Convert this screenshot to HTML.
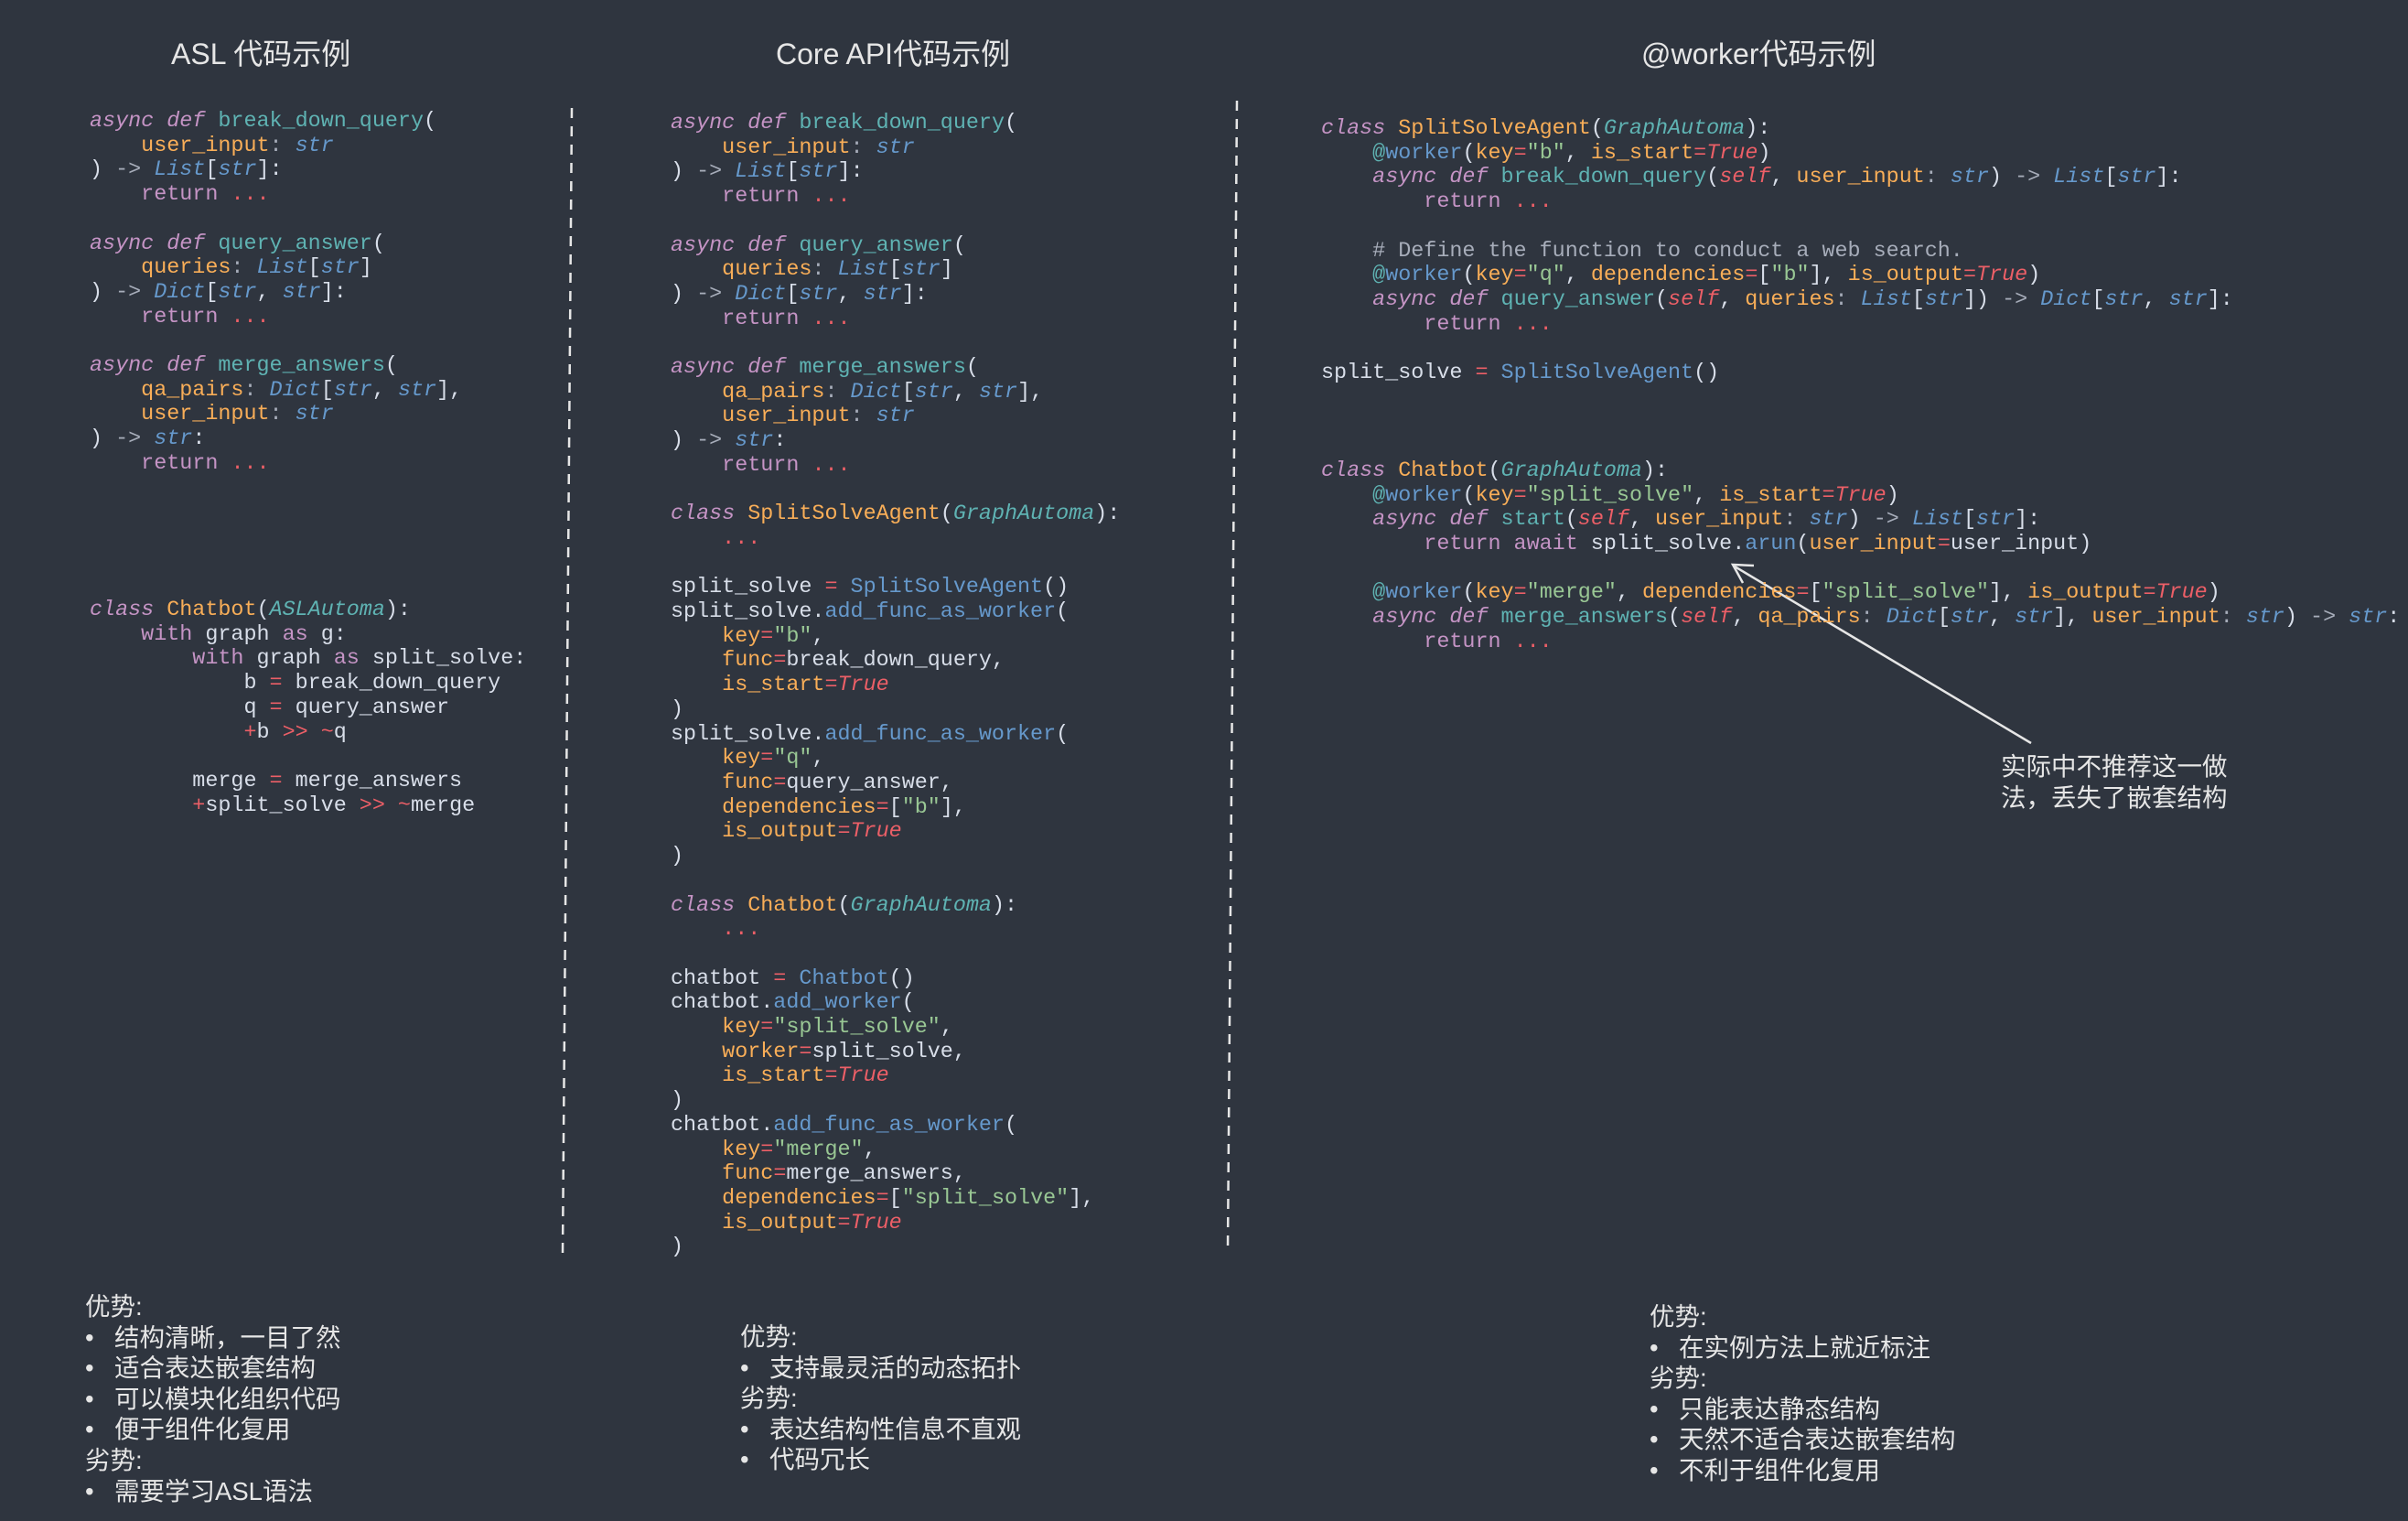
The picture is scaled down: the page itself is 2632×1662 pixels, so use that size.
<!DOCTYPE html>
<html><head><meta charset="utf-8"><style>
body{margin:0;width:2632px;height:1662px;background:#2f353f;overflow:hidden;position:relative;font-family:"Liberation Sans","Noto Sans CJK SC",sans-serif;color:#e6e6e6}
.t{position:absolute;font-size:32px;top:34px;white-space:nowrap}
pre{position:absolute;margin:0;font-family:"Liberation Mono","DejaVu Sans Mono",monospace;font-size:23.4px;line-height:26.7px;color:#d8dee9}
.k{color:#c594c5;font-style:italic}.r{color:#c594c5}.f{color:#5fb3b3}.p{color:#f9ae58}.ty{color:#6699cc;font-style:italic}
.e{color:#ec5f67}.ei{color:#ec5f67;font-style:italic}.s{color:#99c794}.c{color:#a7adba}.y{color:#f9ae58}.g{color:#5fb3b3;font-style:italic}.b{color:#6699cc}.o{color:#a7adba}
.txt{position:absolute;font-size:27.5px;line-height:33.6px;white-space:nowrap}
.txt div{position:relative}
.bl{padding-left:32px}.bl:before{content:"•";position:absolute;left:0}
</style></head><body>
<div class="t" style="left:187px">ASL 代码示例</div>
<div class="t" style="left:848px">Core API代码示例</div>
<div class="t" style="left:1794px">@worker代码示例</div>

<svg width="2632" height="1662" style="position:absolute;left:0;top:0">
<line x1="625" y1="118" x2="615" y2="1370" stroke="#e6e6e6" stroke-width="2.5" stroke-dasharray="11,9"/>
<line x1="1352" y1="110" x2="1342" y2="1364" stroke="#e6e6e6" stroke-width="2.5" stroke-dasharray="11,9"/>
<line x1="2220" y1="812" x2="1896" y2="619" stroke="#e6e6e6" stroke-width="2.5"/>
<polyline points="1917,618 1894,617 1905,637" fill="none" stroke="#e6e6e6" stroke-width="2.5"/>
</svg>

<pre style="left:98px;top:120px"><span class="k">async def</span> <span class="f">break_down_query</span>(
    <span class="p">user_input</span><span class="o">:</span> <span class="ty">str</span>
) <span class="o">-&gt;</span> <span class="ty">List</span>[<span class="ty">str</span>]:
    <span class="r">return</span> <span class="e">...</span>

<span class="k">async def</span> <span class="f">query_answer</span>(
    <span class="p">queries</span><span class="o">:</span> <span class="ty">List</span>[<span class="ty">str</span>]
) <span class="o">-&gt;</span> <span class="ty">Dict</span>[<span class="ty">str</span>, <span class="ty">str</span>]:
    <span class="r">return</span> <span class="e">...</span>

<span class="k">async def</span> <span class="f">merge_answers</span>(
    <span class="p">qa_pairs</span><span class="o">:</span> <span class="ty">Dict</span>[<span class="ty">str</span>, <span class="ty">str</span>],
    <span class="p">user_input</span><span class="o">:</span> <span class="ty">str</span>
) <span class="o">-&gt;</span> <span class="ty">str</span>:
    <span class="r">return</span> <span class="e">...</span>





<span class="k">class</span> <span class="y">Chatbot</span>(<span class="g">ASLAutoma</span>):
    <span class="r">with</span> graph <span class="r">as</span> g:
        <span class="r">with</span> graph <span class="r">as</span> split_solve:
            b <span class="e">=</span> break_down_query
            q <span class="e">=</span> query_answer
            <span class="e">+</span>b <span class="e">&gt;&gt;</span> <span class="e">~</span>q

        merge <span class="e">=</span> merge_answers
        <span class="e">+</span>split_solve <span class="e">&gt;&gt;</span> <span class="e">~</span>merge</pre>

<pre style="left:733px;top:122px"><span class="k">async def</span> <span class="f">break_down_query</span>(
    <span class="p">user_input</span><span class="o">:</span> <span class="ty">str</span>
) <span class="o">-&gt;</span> <span class="ty">List</span>[<span class="ty">str</span>]:
    <span class="r">return</span> <span class="e">...</span>

<span class="k">async def</span> <span class="f">query_answer</span>(
    <span class="p">queries</span><span class="o">:</span> <span class="ty">List</span>[<span class="ty">str</span>]
) <span class="o">-&gt;</span> <span class="ty">Dict</span>[<span class="ty">str</span>, <span class="ty">str</span>]:
    <span class="r">return</span> <span class="e">...</span>

<span class="k">async def</span> <span class="f">merge_answers</span>(
    <span class="p">qa_pairs</span><span class="o">:</span> <span class="ty">Dict</span>[<span class="ty">str</span>, <span class="ty">str</span>],
    <span class="p">user_input</span><span class="o">:</span> <span class="ty">str</span>
) <span class="o">-&gt;</span> <span class="ty">str</span>:
    <span class="r">return</span> <span class="e">...</span>

<span class="k">class</span> <span class="y">SplitSolveAgent</span>(<span class="g">GraphAutoma</span>):
    <span class="e">...</span>

split_solve <span class="e">=</span> <span class="b">SplitSolveAgent</span>()
split_solve.<span class="b">add_func_as_worker</span>(
    <span class="p">key</span><span class="e">=</span><span class="s">"b"</span>,
    <span class="p">func</span><span class="e">=</span>break_down_query,
    <span class="p">is_start</span><span class="e">=</span><span class="ei">True</span>
)
split_solve.<span class="b">add_func_as_worker</span>(
    <span class="p">key</span><span class="e">=</span><span class="s">"q"</span>,
    <span class="p">func</span><span class="e">=</span>query_answer,
    <span class="p">dependencies</span><span class="e">=</span>[<span class="s">"b"</span>],
    <span class="p">is_output</span><span class="e">=</span><span class="ei">True</span>
)

<span class="k">class</span> <span class="y">Chatbot</span>(<span class="g">GraphAutoma</span>):
    <span class="e">...</span>

chatbot <span class="e">=</span> <span class="b">Chatbot</span>()
chatbot.<span class="b">add_worker</span>(
    <span class="p">key</span><span class="e">=</span><span class="s">"split_solve"</span>,
    <span class="p">worker</span><span class="e">=</span>split_solve,
    <span class="p">is_start</span><span class="e">=</span><span class="ei">True</span>
)
chatbot.<span class="b">add_func_as_worker</span>(
    <span class="p">key</span><span class="e">=</span><span class="s">"merge"</span>,
    <span class="p">func</span><span class="e">=</span>merge_answers,
    <span class="p">dependencies</span><span class="e">=</span>[<span class="s">"split_solve"</span>],
    <span class="p">is_output</span><span class="e">=</span><span class="ei">True</span>
)</pre>

<pre style="left:1444px;top:128px"><span class="k">class</span> <span class="y">SplitSolveAgent</span>(<span class="g">GraphAutoma</span>):
    <span class="f">@</span><span class="b">worker</span>(<span class="p">key</span><span class="e">=</span><span class="s">"b"</span>, <span class="p">is_start</span><span class="e">=</span><span class="ei">True</span>)
    <span class="k">async def</span> <span class="f">break_down_query</span>(<span class="ei">self</span>, <span class="p">user_input</span><span class="o">:</span> <span class="ty">str</span>) <span class="o">-&gt;</span> <span class="ty">List</span>[<span class="ty">str</span>]:
        <span class="r">return</span> <span class="e">...</span>

    <span class="c"># Define the function to conduct a web search.</span>
    <span class="f">@</span><span class="b">worker</span>(<span class="p">key</span><span class="e">=</span><span class="s">"q"</span>, <span class="p">dependencies</span><span class="e">=</span>[<span class="s">"b"</span>], <span class="p">is_output</span><span class="e">=</span><span class="ei">True</span>)
    <span class="k">async def</span> <span class="f">query_answer</span>(<span class="ei">self</span>, <span class="p">queries</span><span class="o">:</span> <span class="ty">List</span>[<span class="ty">str</span>]) <span class="o">-&gt;</span> <span class="ty">Dict</span>[<span class="ty">str</span>, <span class="ty">str</span>]:
        <span class="r">return</span> <span class="e">...</span>

split_solve <span class="e">=</span> <span class="b">SplitSolveAgent</span>()



<span class="k">class</span> <span class="y">Chatbot</span>(<span class="g">GraphAutoma</span>):
    <span class="f">@</span><span class="b">worker</span>(<span class="p">key</span><span class="e">=</span><span class="s">"split_solve"</span>, <span class="p">is_start</span><span class="e">=</span><span class="ei">True</span>)
    <span class="k">async def</span> <span class="f">start</span>(<span class="ei">self</span>, <span class="p">user_input</span><span class="o">:</span> <span class="ty">str</span>) <span class="o">-&gt;</span> <span class="ty">List</span>[<span class="ty">str</span>]:
        <span class="r">return await</span> split_solve.<span class="b">arun</span>(<span class="p">user_input</span><span class="e">=</span>user_input)

    <span class="f">@</span><span class="b">worker</span>(<span class="p">key</span><span class="e">=</span><span class="s">"merge"</span>, <span class="p">dependencies</span><span class="e">=</span>[<span class="s">"split_solve"</span>], <span class="p">is_output</span><span class="e">=</span><span class="ei">True</span>)
    <span class="k">async def</span> <span class="f">merge_answers</span>(<span class="ei">self</span>, <span class="p">qa_pairs</span><span class="o">:</span> <span class="ty">Dict</span>[<span class="ty">str</span>, <span class="ty">str</span>], <span class="p">user_input</span><span class="o">:</span> <span class="ty">str</span>) <span class="o">-&gt;</span> <span class="ty">str</span>:
        <span class="r">return</span> <span class="e">...</span></pre>

<div class="txt" style="left:2187px;top:821px">实际中不推荐这一做<br>法，丢失了嵌套结构</div>

<div class="txt" style="left:93px;top:1411px">
<div>优势:</div><div class="bl">结构清晰，一目了然</div><div class="bl">适合表达嵌套结构</div><div class="bl">可以模块化组织代码</div><div class="bl">便于组件化复用</div><div>劣势:</div><div class="bl">需要学习ASL语法</div>
</div>
<div class="txt" style="left:809px;top:1444px">
<div>优势:</div><div class="bl">支持最灵活的动态拓扑</div><div>劣势:</div><div class="bl">表达结构性信息不直观</div><div class="bl">代码冗长</div>
</div>
<div class="txt" style="left:1803px;top:1422px">
<div>优势:</div><div class="bl">在实例方法上就近标注</div><div>劣势:</div><div class="bl">只能表达静态结构</div><div class="bl">天然不适合表达嵌套结构</div><div class="bl">不利于组件化复用</div>
</div>
</body></html>
